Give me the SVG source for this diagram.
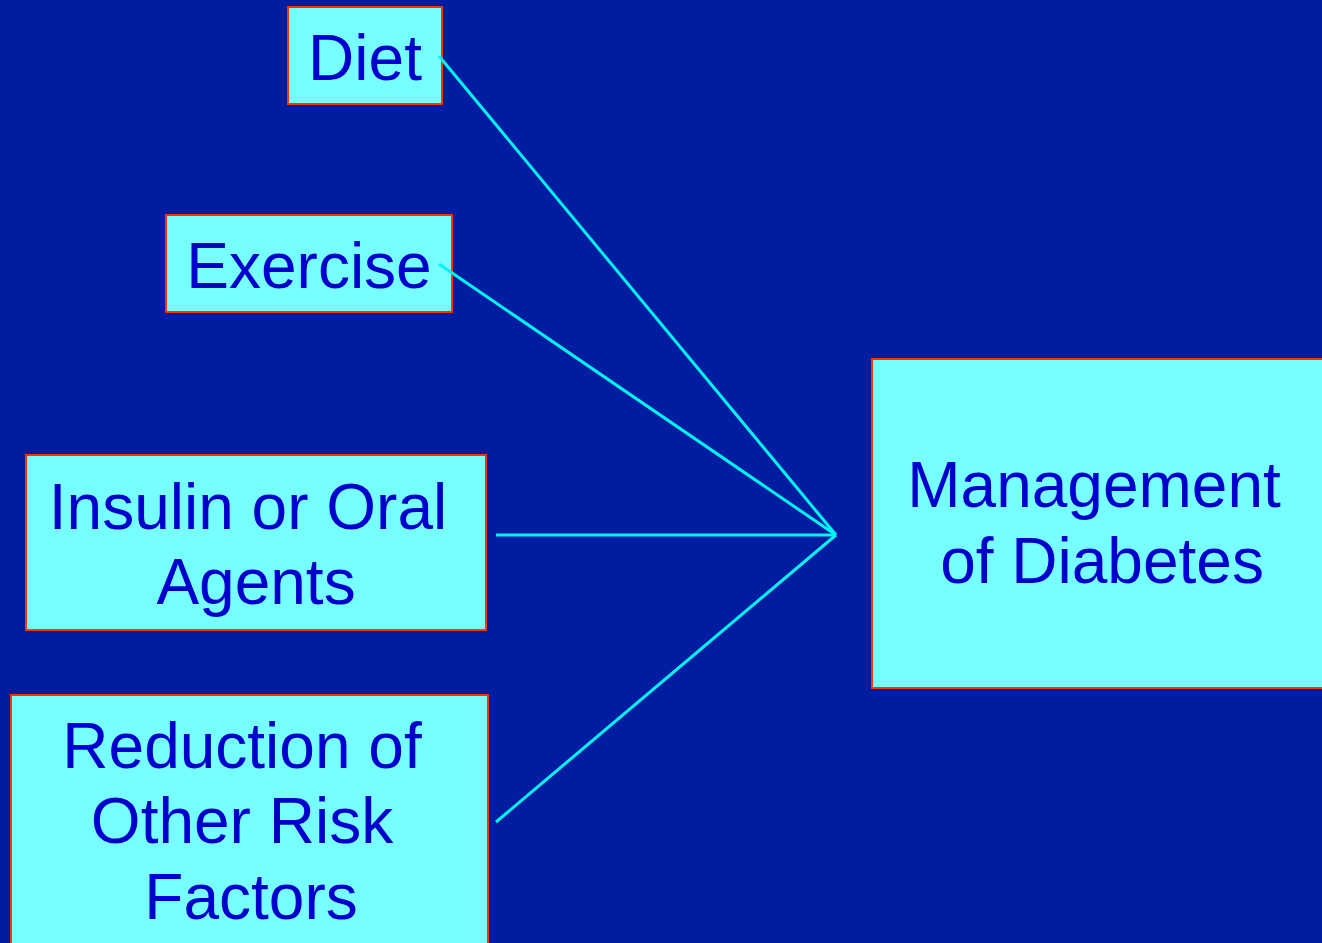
<svg xmlns="http://www.w3.org/2000/svg" width="1322" height="943" viewBox="0 0 1322 943">
<style>
.box{fill:#77FFFF;stroke:#FF3300;stroke-width:2}
.t{font-family:"Liberation Sans",Arial,sans-serif;font-size:64px;fill:#0000CC;text-anchor:middle}
.c{stroke:#00F4F4;stroke-width:3;fill:none}
</style>
<rect width="1322" height="943" fill="#001CA0"/>
<g id="diet">
<rect class="box" x="288" y="7" width="154" height="97"/>
<text class="t" x="365" y="80">Diet</text>
</g>
<g id="exercise">
<rect class="box" x="166" y="215" width="286" height="97"/>
<text class="t" x="309" y="288">Exercise</text>
</g>
<g id="insulin">
<rect class="box" x="26" y="455" width="460" height="175"/>
<text class="t" x="248" y="529">Insulin or Oral</text>
<text class="t" x="256" y="604">Agents</text>
</g>
<g id="reduction">
<rect class="box" x="11" y="695" width="477" height="260"/>
<text class="t" x="242" y="768">Reduction of</text>
<text class="t" x="242" y="843">Other Risk</text>
<text class="t" x="251" y="919">Factors</text>
</g>
<g id="management">
<rect class="box" x="872" y="359" width="460" height="329"/>
<text class="t" x="1094" y="507">Management</text>
<text class="t" x="1102" y="583">of Diabetes</text>
</g>
<g id="connectors">
<line class="c" x1="439" y1="56" x2="836" y2="535"/>
<line class="c" x1="439" y1="264" x2="836" y2="535"/>
<line class="c" x1="496" y1="535" x2="836" y2="535"/>
<line class="c" x1="496" y1="822" x2="836" y2="535"/>
</g>
</svg>
